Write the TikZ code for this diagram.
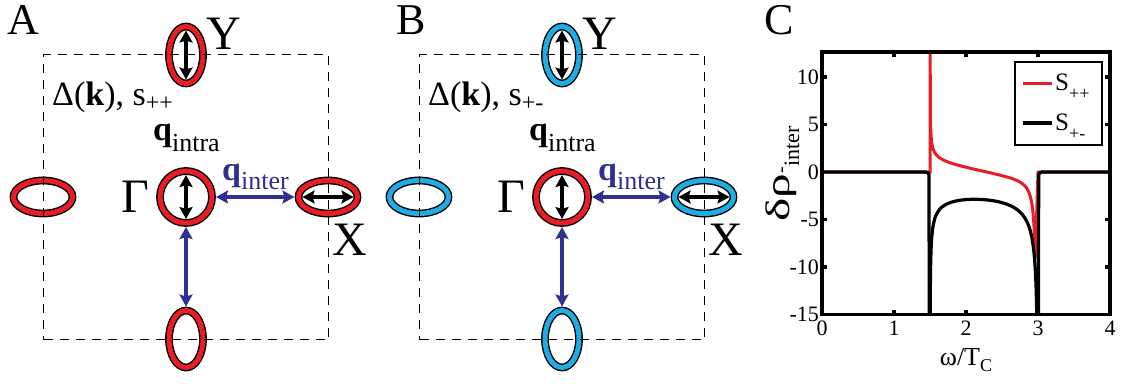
\documentclass[tikz,border=0pt]{standalone}
\usepackage{fontspec}
\usepackage{graphicx}
\setmainfont{Liberation Serif}
\usetikzlibrary{shapes.geometric}
\usetikzlibrary{arrows.meta}

\definecolor{fsred}{RGB}{232,30,38}
\definecolor{fscyan}{RGB}{30,172,226}
\definecolor{qblue}{RGB}{46,49,146}

% lowered/raised small text: shift, size, text
\newcommand{\lsub}[3]{\raisebox{#1}{\fontsize{#2}{#2}\selectfont #3}}

\begin{document}
\begin{tikzpicture}[x=1pt,y=-1pt,>={Stealth[length=12pt,width=13pt,inset=2pt]},
    pocket/.style={ellipse, draw=black, line width=1.4pt, double=#1, double distance=5pt,
                   fill=white, inner sep=0pt, outer sep=4pt},
    vpocket/.style={pocket=#1, minimum width=34pt, minimum height=57pt},
    hpocket/.style={pocket=#1, minimum width=59pt, minimum height=33pt},
    gpocket/.style={pocket=#1, minimum width=52pt, minimum height=52pt},
    bz/.style={draw, dash pattern=on 9pt off 7pt, line width=1.6pt, minimum size=285pt, inner sep=0pt},
    intra/.style={<->, line width=3.4pt},
    inter/.style={<->, line width=3.4pt, draw=qblue},
    panel/.style={inner sep=0pt, font=\fontsize{44}{44}\selectfont},
    point/.style={inner sep=0pt, font=\fontsize{48}{48}\selectfont},
    gaplab/.style={inner sep=0pt, anchor=base west, font=\fontsize{34}{34}\selectfont},
    splus/.style={line width=3pt, fsred},
    sminus/.style={line width=3.2pt, black},
    frame/.style={line width=3.3pt, black},
    tick/.style={inner sep=0pt, font=\fontsize{22}{22}\selectfont}]

  \useasboundingbox (0,0) rectangle (1126,383);

  % ---- A: s++ ----
  \node[gpocket=fsred] (Ga) at (186,197) {};
  \node[vpocket=fsred] (Ya) at (186,55) {};
  \node[vpocket=fsred] (Ba) at (186,339) {};
  \node[hpocket=fsred] (La) at (43,197) {};
  \node[hpocket=fsred] (Xa) at (328,197) {};
  \draw[intra] ([yshift=-8pt]Ga.north) -- ([yshift=8pt]Ga.south);
  \draw[intra] ([yshift=-8pt]Ya.north) -- ([yshift=8pt]Ya.south);
  \draw[intra] ([xshift=8pt]Xa.west) -- ([xshift=-8pt]Xa.east);
  \draw[inter] (Ga.east) -- (Xa.west);
  \draw[inter] (Ga.south) -- (Ba.north);
  \node[bz] (bza) at (Ga) {};

  \node[panel] (labA) at (23,20) {A};
  \node[point] (labYa) at (224,34) {Y};
  \node[point] (labGa) at (135,197) {Γ};
  \node[point] (labXa) at (350,240) {X};
  \node[gaplab] (gapa) at (52,105) {Δ(\textbf{k}), s\lsub{-5pt}{24}{++}};
  \node[gaplab] (qia) at (153,140) {\textbf{q}\lsub{-11pt}{26}{intra}};
  \node[gaplab, text=qblue] (qea) at (222,180) {\textbf{q}\lsub{-9pt}{26}{inter}};

  % ---- B: s+- ----
  \begin{scope}[xshift=376pt]
    \node[gpocket=fsred] (Gb) at (186,197) {};
    \node[vpocket=fscyan] (Yb) at (186,55) {};
    \node[vpocket=fscyan] (Bb) at (186,339) {};
    \node[hpocket=fscyan] (Lb) at (43,197) {};
    \node[hpocket=fscyan] (Xb) at (328,197) {};
    \draw[intra] ([yshift=-8pt]Gb.north) -- ([yshift=8pt]Gb.south);
    \draw[intra] ([yshift=-8pt]Yb.north) -- ([yshift=8pt]Yb.south);
    \draw[intra] ([xshift=8pt]Xb.west) -- ([xshift=-8pt]Xb.east);
    \draw[inter] (Gb.east) -- (Xb.west);
    \draw[inter] (Gb.south) -- (Bb.north);
    \node[bz] (bzb) at (Gb) {};

    \node[point] (labYb) at (224,34) {Y};
    \node[point] (labGb) at (135,197) {Γ};
    \node[point] (labXb) at (350,240) {X};
    \node[gaplab] (gapb) at (52,105) {Δ(\textbf{k}), s\lsub{-5pt}{24}{+-}};
    \node[gaplab] (qib) at (153,140) {\textbf{q}\lsub{-11pt}{26}{intra}};
    \node[gaplab, text=qblue] (qeb) at (222,180) {\textbf{q}\lsub{-9pt}{26}{inter}};
  \end{scope}
  \node[panel] (labB) at (411,20) {B};

  % ---- C: delta rho vs omega ----
  \node[panel] (labC) at (779,20) {C};
  \begin{scope}[shift={(822,172)}, x=72pt, y=9.5pt]
    \begin{scope}
      \clip (0,-15) rectangle (4,12.63);
      \draw[splus] (0,0) -- (1.5,0) -- (1.5,14)
        -- plot[domain=1.5008:2.962, samples=300]
           (\x, {0.4/sqrt(\x-1.5) - 0.065/((3-\x)*sqrt(3-\x)) - 1.2*(\x-2.25) - 0.3})
        -- (3.0,0) -- (4,0);
      \draw[sminus, rounded corners=3pt] (0,0) -- (1.485,0) -- (1.49,-16);
      \draw[sminus] plot[domain=1.5005:2.9995, samples=400]
           (\x, {-2.28*exp(-0.35*ln(\x-1.5))/sqrt(3-\x)});
      \draw[sminus, rounded corners=3pt] (3.005,-16) -- (3.01,0) -- (4,0);
    \end{scope}
    \draw[frame] (0,-15) rectangle (4,12.63);
    \foreach \t in {1,2,3} {
      \draw[frame] (\t,-15) -- ++(0pt,5pt);
      \draw[frame] (\t,12.63) -- ++(0pt,-5pt);
      }
    \foreach \v in {-10,-5,5,10} {
      \draw[frame] (0,\v) -- ++(5pt,0pt);
      \draw[frame] (4,\v) -- ++(-5pt,0pt);
      }
    \foreach \v in {-15,-10,-5,0,5,10}
      \node[tick, anchor=east] at (-0.04,\v) {\v};
    \foreach \t in {0,1,2,3,4}
      \node[tick, anchor=north] at (\t,-15.7) {\t};
  \end{scope}

  \node[inner sep=0pt, font=\fontsize{26}{26}\selectfont] (xlab) at (966,360) {ω/T\lsub{-6pt}{18}{C}};
  \node[inner sep=0pt, rotate=90, anchor=base] (ylab) at (789,174)
    {\fontsize{34}{34}\selectfont\scalebox{1.45}[1]{δρ}\lsub{2pt}{20}{-}\lsub{-10pt}{22}{inter}};

  % legend
  \node[draw, line width=2.7pt, fill=white, minimum width=87pt, minimum height=83pt, inner sep=0pt]
    (lgd) at (1058.5,103.5) {};
  \draw[splus] (1023,83) -- (1052,83);
  \node[inner sep=0pt, anchor=base west, font=\fontsize{25}{25}\selectfont] (lgp) at (1055,90) {S\lsub{-9pt}{18}{++}};
  \draw[sminus] (1023,123) -- (1052,123);
  \node[inner sep=0pt, anchor=base west, font=\fontsize{25}{25}\selectfont] (lgm) at (1055,130) {S\lsub{-9pt}{18}{+-}};
\end{tikzpicture}
\end{document}
